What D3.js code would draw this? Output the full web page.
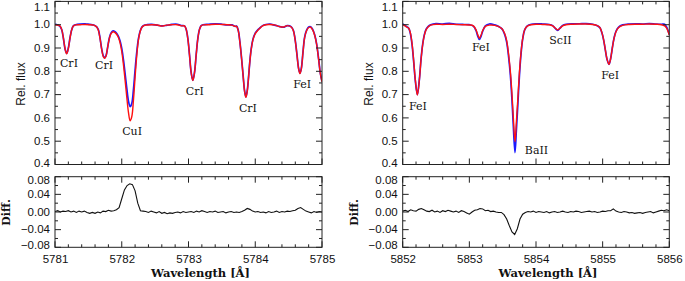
<!DOCTYPE html>
<html><head><meta charset="utf-8">
<script src="https://cdn.jsdelivr.net/npm/d3@7"></script>
<style>
html,body{margin:0;padding:0;background:#fff;}
svg{display:block;}
.tick text{font-family:"Liberation Sans",Arial,sans-serif;font-size:11.5px;fill:#111;}
.lbl{font-family:"DejaVu Serif","Liberation Serif",serif;font-size:11px;fill:#111;}
.ttl{font-family:"Liberation Sans",Arial,sans-serif;font-size:12px;fill:#111;}
.ttlb{font-family:"DejaVu Serif","Liberation Serif",serif;font-size:11px;font-weight:bold;fill:#111;}
</style></head>
<body><svg id="c" width="685" height="281"></svg>
<script>
// ---------- DATA ----------
// Left panel spectrum (wavelength in Å, model = red, observed = blue)
const leftWave = [5781.000,5781.040,5781.075,5781.100,5781.125,5781.150,5781.175,5781.200,5781.225,5781.250,5781.275,5781.310,5781.380,5781.450,5781.520,5781.580,5781.625,5781.650,5781.675,5781.700,5781.725,5781.745,5781.765,5781.790,5781.815,5781.840,5781.870,5781.900,5781.925,5781.950,5781.975,5782.000,5782.025,5782.050,5782.075,5782.100,5782.125,5782.150,5782.175,5782.200,5782.225,5782.250,5782.275,5782.300,5782.330,5782.380,5782.450,5782.530,5782.600,5782.670,5782.750,5782.830,5782.900,5782.940,5782.965,5782.990,5783.015,5783.040,5783.065,5783.090,5783.115,5783.140,5783.165,5783.190,5783.220,5783.300,5783.400,5783.500,5783.580,5783.650,5783.700,5783.720,5783.745,5783.770,5783.795,5783.820,5783.840,5783.860,5783.880,5783.900,5783.920,5783.940,5783.965,5784.000,5784.035,5784.070,5784.110,5784.160,5784.220,5784.300,5784.360,5784.420,5784.480,5784.540,5784.570,5784.600,5784.625,5784.650,5784.670,5784.690,5784.715,5784.740,5784.770,5784.800,5784.830,5784.860,5784.890,5784.920,5784.950,5784.975,5785.000];
const leftModel = [1.000,0.998,0.994,0.980,0.945,0.898,0.875,0.898,0.942,0.978,0.994,0.999,1.000,1.001,1.000,0.998,0.990,0.976,0.940,0.893,0.862,0.856,0.866,0.905,0.942,0.962,0.970,0.966,0.958,0.945,0.922,0.885,0.830,0.762,0.690,0.625,0.588,0.605,0.675,0.775,0.868,0.935,0.970,0.988,0.996,0.999,1.000,0.999,0.994,0.998,1.000,1.000,0.995,0.995,0.980,0.940,0.870,0.794,0.760,0.794,0.870,0.940,0.980,0.995,0.999,1.000,1.002,1.001,1.000,0.998,0.993,0.993,0.975,0.925,0.855,0.775,0.715,0.688,0.715,0.775,0.845,0.895,0.935,0.962,0.975,0.985,0.995,1.000,1.001,0.998,0.992,0.990,0.996,0.990,0.975,0.930,0.870,0.810,0.790,0.810,0.880,0.945,0.975,0.988,0.989,0.978,0.955,0.915,0.850,0.790,0.755];
const leftObs   = [1.002,0.999,0.993,0.979,0.943,0.897,0.877,0.900,0.944,0.978,0.995,1.000,1.003,1.004,1.001,0.999,0.991,0.978,0.942,0.895,0.865,0.858,0.868,0.905,0.944,0.965,0.974,0.970,0.962,0.950,0.930,0.898,0.850,0.790,0.728,0.673,0.648,0.662,0.720,0.805,0.882,0.940,0.972,0.989,0.997,1.000,1.001,0.998,0.995,0.997,1.001,1.002,0.996,0.995,0.980,0.941,0.871,0.795,0.762,0.795,0.871,0.941,0.980,0.996,1.000,1.002,1.004,1.002,0.999,0.999,0.993,0.994,0.976,0.926,0.856,0.776,0.717,0.690,0.717,0.776,0.846,0.897,0.937,0.964,0.977,0.986,0.996,1.001,1.003,0.997,0.993,0.989,0.996,0.991,0.976,0.932,0.872,0.812,0.792,0.812,0.882,0.947,0.977,0.990,0.991,0.980,0.957,0.917,0.852,0.792,0.757];

// Right panel spectrum
const rightWave = [5852.000,5852.030,5852.060,5852.090,5852.115,5852.140,5852.165,5852.190,5852.220,5852.250,5852.275,5852.300,5852.325,5852.350,5852.380,5852.420,5852.500,5852.600,5852.700,5852.800,5852.900,5853.000,5853.060,5853.100,5853.125,5853.150,5853.175,5853.200,5853.240,5853.300,5853.380,5853.440,5853.490,5853.530,5853.560,5853.590,5853.615,5853.640,5853.660,5853.685,5853.705,5853.725,5853.750,5853.775,5853.800,5853.830,5853.870,5853.930,5854.000,5854.100,5854.200,5854.250,5854.290,5854.325,5854.360,5854.400,5854.450,5854.550,5854.650,5854.750,5854.850,5854.920,5854.960,5854.990,5855.015,5855.040,5855.065,5855.095,5855.120,5855.145,5855.170,5855.200,5855.240,5855.300,5855.400,5855.500,5855.600,5855.700,5855.800,5855.880,5855.930,5855.960,5855.980,5856.000];
const rightModel = [1.000,0.996,0.990,0.985,0.965,0.920,0.845,0.762,0.698,0.763,0.850,0.915,0.955,0.978,0.990,0.998,1.002,1.001,1.002,1.001,1.000,0.999,0.995,0.978,0.958,0.942,0.955,0.975,0.993,0.998,0.997,0.992,0.983,0.962,0.932,0.870,0.800,0.700,0.600,0.498,0.580,0.670,0.790,0.880,0.940,0.978,0.994,1.000,1.002,1.001,1.000,0.995,0.985,0.978,0.985,0.995,1.000,1.002,1.003,1.003,1.001,0.996,0.987,0.965,0.935,0.893,0.853,0.830,0.855,0.900,0.940,0.970,0.988,0.997,1.001,1.002,1.002,1.003,1.002,1.000,0.995,0.985,0.972,0.956];
const rightObs   = [1.003,0.998,0.992,0.985,0.962,0.915,0.840,0.758,0.700,0.765,0.852,0.917,0.957,0.980,0.992,1.000,1.005,1.003,1.006,1.002,1.001,1.000,0.994,0.975,0.952,0.937,0.950,0.972,0.995,1.003,0.999,0.992,0.982,0.958,0.925,0.860,0.785,0.675,0.565,0.451,0.545,0.645,0.775,0.873,0.938,0.978,0.995,1.002,1.004,1.003,1.001,0.996,0.984,0.976,0.985,0.997,1.002,1.004,1.004,1.005,1.002,0.996,0.987,0.964,0.934,0.892,0.852,0.830,0.855,0.900,0.941,0.972,0.990,0.999,1.003,1.004,1.003,1.005,1.003,1.002,1.002,0.990,0.975,0.958];

// Difference (observed - model), sampled every 0.04 Å from the panel start
const diffStep = 0.04;
const leftDiff = [
 0.001,0.003,0.000,0.002,0.001,0.003,0.000,0.002,-0.001,0.002,
 0.000,0.002,-0.001,-0.003,-0.001,-0.003,0.000,-0.002,
 0.002,0.001,0.004,0.002,0.003,0.005,
 0.010,0.030,0.050,0.060,0.064,0.062,0.048,0.020,0.003,0.002,
 0.001,-0.001,0.002,0.000,-0.002,0.001,-0.003,-0.001,-0.004,-0.002,-0.003,-0.001,0.000,-0.002,0.001,-0.001,0.000,
 0.001,-0.001,0.002,0.000,0.003,0.001,-0.001,0.001,0.000,0.002,-0.001,0.000,0.001,-0.002,0.000,0.001,-0.001,0.000,-0.001,0.001,
 0.004,0.008,0.006,0.002,0.000,0.001,
 -0.001,0.000,-0.002,0.001,-0.001,0.000,0.002,-0.001,0.001,0.000,0.002,0.001,0.003,0.004,
 0.008,0.010,0.006,0.002,0.000,-0.002,0.001,-0.001,0.001,0.000];
const rightDiff = [
 0.002,0.004,0.001,0.005,0.003,0.002,0.006,0.008,0.005,0.002,
 0.001,0.004,0.000,0.002,-0.001,0.003,0.001,0.004,0.002,0.000,
 0.002,-0.001,0.003,0.001,-0.002,-0.005,0.000,0.004,0.005,0.008,
 0.007,0.003,0.004,0.001,0.002,0.000,-0.001,
 -0.001,-0.006,-0.016,-0.031,-0.045,-0.051,-0.038,-0.016,-0.005,-0.001,
 0.001,0.000,0.002,-0.001,0.001,0.000,-0.001,0.001,-0.002,0.000,0.001,-0.001,0.000,0.002,0.000,-0.001,0.001,0.000,0.002,0.001,-0.001,0.000,0.001,0.002,
 0.000,0.001,-0.001,0.000,0.002,0.001,0.003,0.003,0.007,0.002,
 0.000,-0.001,0.001,0.000,-0.002,-0.001,-0.003,-0.002,-0.001,-0.003,-0.001,0.000,
 0.001,-0.002,0.000,0.002,0.004,0.003,0.005,0.003];

// Line identifications (wavelength, flux at line core, label)
const leftLines  = [{w:5781.175,f:0.875,t:"CrI"},{w:5781.745,f:0.856,t:"CrI"},{w:5782.125,f:0.588,t:"CuI"},{w:5783.065,f:0.760,t:"CrI"},{w:5783.860,f:0.688,t:"CrI"},{w:5784.670,f:0.790,t:"FeI"}];
const rightLines = [{w:5852.220,f:0.698,t:"FeI"},{w:5853.150,f:0.937,t:"FeI"},{w:5853.685,f:0.451,t:"BaII"},{w:5854.325,f:0.976,t:"ScII"},{w:5855.095,f:0.830,t:"FeI"}];

const leftTicksX  = [5781,5782,5783,5784,5785];
const rightTicksX = [5852,5853,5854,5855,5856];
const fluxTicks = [0.4,0.5,0.6,0.7,0.8,0.9,1.0,1.1];
const diffTicks = [-0.08,-0.04,0.00,0.04,0.08];

// ---------- DRAW ----------
const svg = d3.select("#c");
const topY = d3.scaleLinear().domain([0.4,1.1]).range([164.5,1.4]);
const difY = d3.scaleLinear().domain([-0.08,0.08]).range([247.3,176.7]);

function drawPanel(cfg){
  const x = d3.scaleLinear().domain(cfg.dom).range(cfg.rng);
  const g = svg.append("g");
  const minorX = d3.range(cfg.dom[0], cfg.dom[1]+1e-9, 0.2).map(v=>+v.toFixed(2));

  function frame(y, majorY, minorYstep, fmt, topPad){
    const [b,t] = y.range();
    const minorY = d3.range(y.domain()[0], y.domain()[1]+1e-9, minorYstep).map(v=>+v.toFixed(3));
    const fg = g.append("g");
    const tk = fg.append("g").attr("stroke","#222").attr("stroke-width",1);
    minorX.forEach(v=>{
      const maj = cfg.ticks.some(m=>Math.abs(m-v)<1e-6);
      const L = maj?6:3, xx = x(v);
      tk.append("line").attr("x1",xx).attr("x2",xx).attr("y1",b).attr("y2",b-L);
      tk.append("line").attr("x1",xx).attr("x2",xx).attr("y1",t).attr("y2",t+L);
    });
    minorY.forEach(v=>{
      const maj = majorY.some(m=>Math.abs(m-v)<1e-6);
      const L = maj?6:3, yy = y(v);
      tk.append("line").attr("x1",cfg.rng[0]).attr("x2",cfg.rng[0]+L).attr("y1",yy).attr("y2",yy);
      tk.append("line").attr("x1",cfg.rng[1]).attr("x2",cfg.rng[1]-L).attr("y1",yy).attr("y2",yy);
    });
    const ax = fg.append("g").attr("transform",`translate(${cfg.rng[0]},0)`)
      .call(d3.axisLeft(y).tickValues(majorY).tickSize(0).tickPadding(5).tickFormat(fmt));
    ax.select(".domain").remove();
    ax.selectAll(".tick").attr("transform",d=>{
      const yy = Math.max(t+topPad, Math.min(b-1.5, y(d)));
      return `translate(0,${yy})`;
    });
    fg.append("rect").attr("x",cfg.rng[0]).attr("y",t).attr("width",cfg.rng[1]-cfg.rng[0]).attr("height",b-t)
      .attr("fill","none").attr("stroke","#222").attr("stroke-width",1);
  }

  const cid = "clip"+cfg.id;
  svg.append("clipPath").attr("id",cid).append("rect")
    .attr("x",cfg.rng[0]).attr("y",0).attr("width",cfg.rng[1]-cfg.rng[0]).attr("height",281);

  const line = d3.line().curve(d3.curveCatmullRom.alpha(0.5));
  const obsPts = cfg.wave.map((w,i)=>[x(w), topY(cfg.obs[i])]);
  const modPts = cfg.wave.map((w,i)=>[x(w), topY(cfg.mod[i])]);
  const dg = g.append("g").attr("clip-path",`url(#${cid})`);
  dg.append("path").attr("d",line(obsPts)).attr("fill","none").attr("stroke","#1a1aff").attr("stroke-width",1.7);
  dg.append("path").attr("d",line(modPts)).attr("fill","none").attr("stroke","#ff1010").attr("stroke-width",1.4);
  const dpts = cfg.diff.map((d,i)=>[x(cfg.dom[0]+i*diffStep), difY(d)]);
  dg.append("path").attr("d",d3.line()(dpts)).attr("fill","none").attr("stroke","#111").attr("stroke-width",1.1);

  frame(topY,fluxTicks,0.05,d3.format(".1f"),5.5);
  frame(difY,diffTicks,0.02,d=>d3.format(".2f")(d).replace("-","\u2212"),3.5);

  const xa = g.append("g").attr("transform",`translate(0,${difY.range()[0]})`)
    .call(d3.axisBottom(x).tickValues(cfg.ticks).tickSize(0).tickPadding(8).tickFormat(d3.format("d")));
  xa.select(".domain").remove();

  cfg.lines.forEach((l,i)=>{
    g.append("text").attr("class","lbl").attr("text-anchor","middle")
      .attr("x",x(l.w)+cfg.lblDx[i]).attr("y",topY(l.f)+cfg.lblDy[i]).text(l.t);
  });

  const cx = (cfg.rng[0]+cfg.rng[1])/2;
  g.append("text").attr("class","ttlb").attr("text-anchor","middle").attr("x",cx+12).attr("y",277).attr("font-size","11.5px").style("font-size","11.5px").text("Wavelength [Å]");
  g.append("text").attr("class","ttl").attr("text-anchor","middle")
    .attr("transform",`translate(${cfg.rng[0]-30},84) rotate(-90)`).text("Rel. flux");
  g.append("text").attr("class","ttlb").attr("text-anchor","middle")
    .attr("transform",`translate(${cfg.rng[0]-45},212.5) rotate(-90)`).text("Diff.");
}

drawPanel({id:"L",dom:[5781,5785],rng:[55,322],wave:leftWave,mod:leftModel,obs:leftObs,diff:leftDiff,
  ticks:leftTicksX,lines:leftLines,lblDx:[2.3,-0.7,2,2,2,2.3],lblDy:[13,10.4,14,14,14.3,14]});
drawPanel({id:"R",dom:[5852,5856],rng:[402.7,669.3],wave:rightWave,mod:rightModel,obs:rightObs,diff:rightDiff,
  ticks:rightTicksX,lines:rightLines,lblDx:[0.6,1.6,21.5,2.8,1.3],lblDy:[14.6,11.3,1,13.4,14.4]});
</script></body></html>
